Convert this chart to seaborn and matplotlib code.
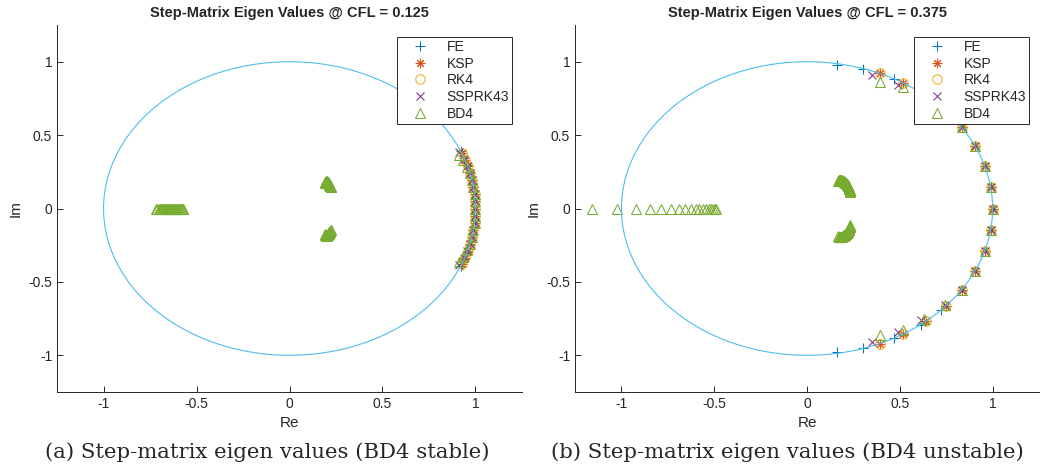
import numpy as np
import pandas as pd
import matplotlib
matplotlib.use("Agg")
import matplotlib.pyplot as plt
from matplotlib.ticker import FormatStrFormatter
import seaborn as sns

methods = ["FE", "KSP", "RK4", "SSPRK43", "BD4"]
colors = ["#0072BD", "#D95319", "#EDB120", "#7E2F8E", "#77AC30"]

titles = ["Step-Matrix Eigen Values @ CFL = 0.125", "Step-Matrix Eigen Values @ CFL = 0.375"]
captions = ["(a) Step-matrix eigen values (BD4 stable)", "(b) Step-matrix eigen values (BD4 unstable)"]
ticks = [-1, -0.5, 0, 0.5, 1]

# eigenvalues near the unit circle, upper half only (lower half = conjugates)
# argument in degrees, modulus
# --- CFL = 0.125
fe_arg_a = [0, 2.8, 5.6, 8.4, 11.2, 14.3, 17.2, 20.2, 23.0]
fe_mod_a = [1.0, 1.0, 1.0, 1.0, 1.0, 1.0, 1.0, 1.0, 1.0]
ksp_arg_a = [0, 2.8, 5.6, 8.4, 11.1, 13.9, 16.7, 19.5, 22.3]
ksp_mod_a = [1.0, 1.0, 1.0, 1.0, 1.0, 1.0, 1.0, 1.0, 1.0]
rk4_arg_a = [0, 2.8, 5.6, 8.4, 11.1, 13.9, 16.7, 19.5, 22.3]
rk4_mod_a = [1.0, 1.0, 1.0, 1.0, 1.0, 1.0, 1.0, 1.0, 1.0]
ssp_arg_a = [0, 2.8, 5.6, 8.4, 11.1, 13.9, 16.9, 19.8, 22.8]
ssp_mod_a = [1.0, 1.0, 1.0, 1.0, 1.0, 1.0, 0.998, 0.995, 0.99]
bd4_arg_a = [0, 2.8, 5.6, 8.4, 11.1, 13.9, 16.7, 19.3, 21.9]
bd4_mod_a = [1.0, 1.0, 1.0, 1.0, 1.0, 1.0, 0.995, 0.99, 0.985]
# --- CFL = 0.375
fe_arg_b = [0, 8.3, 16.8, 25.2, 33.5, 43.7, 52.3, 61.9, 72.4, 80.5]
fe_mod_b = [1.0, 1.0, 1.0, 1.0, 1.0, 1.0, 1.0, 1.0, 1.0, 0.99]
ksp_arg_b = [0, 8.3, 16.8, 25.2, 33.5, 41.6, 50.1, 58.8, 67.0]
ksp_mod_b = [1.0, 1.0, 1.0, 1.0, 1.0, 1.0, 1.0, 1.0, 1.0]
rk4_arg_b = [0, 8.3, 16.8, 25.2, 33.5, 41.6, 50.1, 58.8, 67.0]
rk4_mod_b = [1.0, 1.0, 1.0, 1.0, 1.0, 1.0, 1.0, 1.0, 1.0]
ssp_arg_b = [0, 8.3, 16.8, 25.2, 33.5, 41.6, 51.0, 59.7, 69.0]
ssp_mod_b = [1.0, 1.0, 1.0, 1.0, 1.0, 0.995, 0.98, 0.975, 0.974]
bd4_arg_b = [0, 8.3, 16.8, 25.2, 33.5, 41.6, 50.1, 57.8, 65.5]
bd4_mod_b = [1.0, 1.0, 1.0, 1.0, 1.0, 0.995, 0.985, 0.975, 0.95]

# extra (spurious) BD4 roots: real ones, and complex ones (upper half)
bd4_real_a = [-0.717, -0.71, -0.703, -0.697, -0.691, -0.685, -0.68, -0.675, -0.67, -0.665,
              -0.66, -0.655, -0.65, -0.645, -0.64, -0.635, -0.63, -0.625, -0.62, -0.615,
              -0.61, -0.605, -0.60, -0.595, -0.59, -0.585, -0.58, -0.575, -0.571]
bd4_cre_a = [0.190, 0.192, 0.194, 0.196, 0.198, 0.200, 0.202, 0.204, 0.206, 0.208,
             0.210, 0.212, 0.214, 0.216, 0.218, 0.220, 0.222, 0.224]
bd4_cim_a = [0.176, 0.179, 0.181, 0.183, 0.184, 0.184, 0.183, 0.181, 0.178, 0.175,
             0.171, 0.167, 0.163, 0.159, 0.155, 0.151, 0.148, 0.145]
bd4_real_b = [-1.16, -1.025, -0.92, -0.845, -0.785, -0.735, -0.69, -0.655, -0.625,
              -0.60, -0.58, -0.56, -0.545, -0.53, -0.515, -0.505, -0.495, -0.488]
bd4_cre_b = [0.168, 0.170, 0.172, 0.174, 0.176, 0.178, 0.180, 0.183, 0.185, 0.188,
             0.190, 0.193, 0.195, 0.198, 0.200, 0.203, 0.205, 0.207, 0.209, 0.211,
             0.213, 0.215, 0.217, 0.219, 0.220, 0.222, 0.223, 0.224, 0.225, 0.226,
             0.227, 0.228, 0.228, 0.229, 0.229, 0.229, 0.229]
bd4_cim_b = [0.190, 0.191, 0.192, 0.192, 0.193, 0.193, 0.193, 0.193, 0.192, 0.191,
             0.190, 0.189, 0.187, 0.185, 0.183, 0.181, 0.179, 0.176, 0.174, 0.171,
             0.168, 0.165, 0.162, 0.159, 0.156, 0.153, 0.150, 0.147, 0.143, 0.140,
             0.137, 0.134, 0.131, 0.128, 0.125, 0.119, 0.114]


def circle_pts(args, mods):
    a = np.deg2rad(np.array(args, dtype=float))
    m = np.array(mods, dtype=float)
    z = m * np.exp(1j * a)
    z = np.concatenate([z, np.conj(z[a > 0])])
    return z.real, z.imag


def build(fe, ksp, rk4, ssp, bd4, real_roots, cre, cim):
    rows = []
    for name, (args, mods) in zip(methods, [fe, ksp, rk4, ssp, bd4]):
        re, im = circle_pts(args, mods)
        rows.append(pd.DataFrame({"re": re, "im": im, "method": name}))
    cre = np.array(cre)
    cim = np.array(cim)
    extra = pd.DataFrame({
        "re": np.concatenate([real_roots, cre, cre]),
        "im": np.concatenate([np.zeros(len(real_roots)), cim, -cim]),
        "method": "BD4",
    })
    rows.append(extra)
    return pd.concat(rows, ignore_index=True)


df_a = build((fe_arg_a, fe_mod_a), (ksp_arg_a, ksp_mod_a), (rk4_arg_a, rk4_mod_a),
             (ssp_arg_a, ssp_mod_a), (bd4_arg_a, bd4_mod_a), bd4_real_a, bd4_cre_a, bd4_cim_a)
df_b = build((fe_arg_b, fe_mod_b), (ksp_arg_b, ksp_mod_b), (rk4_arg_b, rk4_mod_b),
             (ssp_arg_b, ssp_mod_b), (bd4_arg_b, bd4_mod_b), bd4_real_b, bd4_cre_b, bd4_cim_b)

sns.set_style("white")
plt.rcParams["font.family"] = ["Liberation Sans", "DejaVu Sans"]
plt.rcParams["axes.unicode_minus"] = False

# marker, size (pt) per method, MATLAB-like line-art markers
marker_of = {"FE": "+", "KSP": (8, 2, 0), "RK4": "o", "SSPRK43": "x", "BD4": "^"}
msize_of = {"FE": 7.5, "KSP": 6.8, "RK4": 6.8, "SSPRK43": 5.8, "BD4": 7.5}

fig = plt.figure(figsize=(10.41, 4.72), dpi=100)
axes = [fig.add_axes([0.0548, 0.1695, 0.4466, 0.7775]),
        fig.add_axes([0.5524, 0.1695, 0.4457, 0.7775])]

theta = np.linspace(0, 2 * np.pi, 500)
for ax, df, title, cap, xc in zip(axes, [df_a, df_b], titles, captions, [0.257, 0.756]):
    for name, c in zip(methods, colors):
        sub = df[df["method"] == name]
        sns.lineplot(data=sub, x="re", y="im", ax=ax, estimator=None, sort=False,
                     color=c, linestyle="none", marker=marker_of[name], markersize=msize_of[name],
                     markeredgecolor=c, markerfacecolor="none", markeredgewidth=0.75,
                     label=name, zorder=2)
    ax.plot(np.cos(theta), np.sin(theta), color="#4DBEEE", lw=0.8, zorder=3)
    ax.set_xlim(-1.25, 1.25)
    ax.set_ylim(-1.25, 1.25)
    ax.set_xticks(ticks)
    ax.set_yticks(ticks)
    ax.xaxis.set_major_formatter(FormatStrFormatter("%g"))
    ax.yaxis.set_major_formatter(FormatStrFormatter("%g"))
    for s in ["top", "right"]:
        ax.spines[s].set_visible(False)
    for s in ["left", "bottom"]:
        ax.spines[s].set_color("#262626")
        ax.spines[s].set_linewidth(0.7)
    ax.tick_params(axis="both", which="major", direction="in", length=4.5, width=0.7,
                   color="#262626", labelcolor="#262626", labelsize=10,
                   bottom=True, left=True, top=False, right=False)
    ax.set_xlabel("Re", fontsize=11, color="#262626")
    ax.set_ylabel("Im", fontsize=11, color="#262626")
    ax.set_title(title, fontsize=10.5, fontweight="bold", pad=6)
    w = ax.get_position().width * 1041
    h = ax.get_position().height * 472
    leg = ax.legend(loc="upper right", bbox_to_anchor=(1 - 10 / w, 1 - 12 / h), borderaxespad=0,
                    frameon=True, fancybox=False, framealpha=1, edgecolor="#262626", fontsize=10,
                    borderpad=0.2, labelspacing=0.2, handlelength=3.0, handletextpad=0.4,
                    numpoints=1)
    leg.get_frame().set_linewidth(0.7)
    fig.text(xc, 0.042, cap, ha="center", va="center", family="DejaVu Serif", fontsize=15.3)

fig.savefig("out.png", dpi=100)
